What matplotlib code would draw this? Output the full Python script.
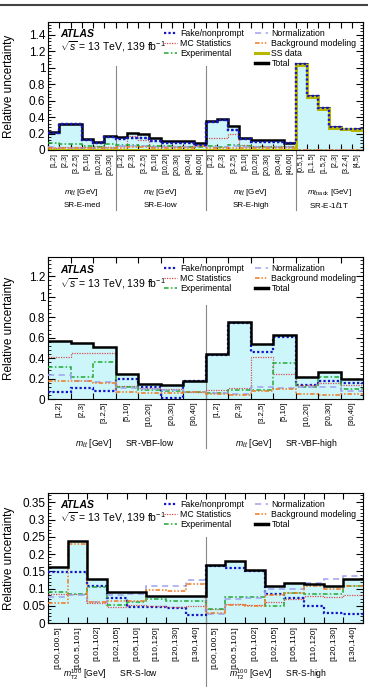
import matplotlib
matplotlib.use("Agg")
import matplotlib.pyplot as plt
import numpy as np
from matplotlib.lines import Line2D
from matplotlib.ticker import AutoMinorLocator, FormatStrFormatter

plt.rcParams['font.family'] = ['Liberation Sans', 'DejaVu Sans']
plt.rcParams['mathtext.fontset'] = 'custom'
plt.rcParams['mathtext.rm'] = 'Liberation Sans'
plt.rcParams['mathtext.it'] = 'Liberation Sans:italic'

# ---- panel 1: SR-E regions ----
mll_bins = ['[1,2]', '[2,3]', '[3.2,5]', '[5,10]', '[10,20]', '[20,30]', '[30,40]', '[40,60]']
mtrack_bins = ['[0.5,1]', '[1,1.5]', '[1.5,2]', '[2,3]', '[3.2,4]', '[4,5]']
labels1 = mll_bins[:6] + mll_bins + mll_bins + mtrack_bins
groups1 = [('SR-E-med', 6), ('SR-E-low', 8), ('SR-E-high', 8), ('SR-E-1$\\ell$1T', 6)]
var1 = ['$m_{\\ell\\ell}$ [GeV]'] * 3 + ['$m_{\\ell\\mathrm{track}}$ [GeV]']

total1 = [0.215, 0.31, 0.31, 0.13, 0.10, 0.17, 0.16, 0.21, 0.19, 0.14, 0.115, 0.11, 0.11, 0.08,
          0.35, 0.38, 0.29, 0.15, 0.12, 0.12, 0.12, 0.09, 1.04, 0.65, 0.51, 0.28, 0.26, 0.25]
fake1 = [0.21, 0.31, 0.31, 0.12, 0.09, 0.16, 0.13, 0.14, 0.14, 0.11, 0.09, 0.09, 0.09, 0.06,
         0.34, 0.37, 0.24, 0.13, 0.10, 0.10, 0.10, 0.08, 1.04, 0.65, 0.51, 0.28, 0.26, 0.25]
mc1 = [0.03, 0.04, 0.04, 0.04, 0.05, 0.04, 0.05, 0.17, 0.12, 0.05, 0.05, 0.05, 0.05, 0.05,
       0.14, 0.14, 0.20, 0.06, 0.05, 0.05, 0.05, 0.05, 0, 0, 0, 0, 0, 0]
exp1 = [0.08, 0.07, 0.07, 0.05, 0.04, 0.07, 0.06, 0.06, 0.05, 0.05, 0.05, 0.04, 0.04, 0.04,
        0.05, 0.04, 0.06, 0.05, 0.04, 0.04, 0.04, 0.04, 0, 0, 0, 0, 0, 0]
norm1 = [0.04, 0.03, 0.03, 0.03, 0.03, 0.03, 0.05, 0.05, 0.05, 0.04, 0.04, 0.04, 0.04, 0.05,
         0.04, 0.04, 0.05, 0.04, 0.04, 0.04, 0.04, 0.04, 0, 0, 0, 0, 0, 0]
bkg1 = [0.03, 0.03, 0.02, 0.02, 0.02, 0.02, 0.03, 0.04, 0.04, 0.03, 0.03, 0.03, 0.03, 0.05,
        0.02, 0.02, 0.03, 0.03, 0.03, 0.02, 0.02, 0.03, 0, 0, 0, 0, 0, 0]
ss1 = [0] * 22 + [1.03, 0.64, 0.50, 0.27, 0.25, 0.24]

# ---- panel 2: SR-VBF regions ----
labels2 = mll_bins[:7] * 2
groups2 = [('SR-VBF-low', 7), ('SR-VBF-high', 7)]
total2 = [0.57, 0.546, 0.513, 0.245, 0.147, 0.14, 0.18, 0.438, 0.75, 0.536, 0.627, 0.219, 0.26, 0.193]
fake2 = [0.07, 0.105, 0.075, 0.20, 0.115, 0.01, 0.18, 0.43, 0.74, 0.46, 0.61, 0.137, 0.18, 0.16]
mc2 = [0.415, 0.455, 0.455, 0.127, 0.11, 0.10, 0.07, 0.088, 0.11, 0.41, 0.245, 0.14, 0.16, 0.135]
exp2 = [0.317, 0.22, 0.366, 0.12, 0.09, 0.08, 0.07, 0.06, 0.09, 0.09, 0.35, 0.12, 0.22, 0.10]
norm2 = [0.235, 0.18, 0.17, 0.11, 0.10, 0.09, 0.07, 0.06, 0.05, 0.12, 0.11, 0.12, 0.12, 0.08]
bkg2 = [0.18, 0.18, 0.154, 0.07, 0.06, 0.06, 0.07, 0.045, 0.035, 0.08, 0.10, 0.05, 0.035, 0.05]

# ---- panel 3: SR-S regions ----
mt2_bins = ['[100,100.5]', '[100.5,101]', '[101,102]', '[102,105]', '[105,110]',
            '[110,120]', '[120,130]', '[130,140]']
labels3 = mt2_bins * 2
groups3 = [('SR-S-low', 8), ('SR-S-high', 8)]
total3 = [0.161, 0.238, 0.128, 0.089, 0.089, 0.077, 0.077, 0.078,
          0.169, 0.18, 0.154, 0.106, 0.115, 0.112, 0.106, 0.128]
fake3 = [0.147, 0.147, 0.108, 0.072, 0.047, 0.047, 0.044, 0.023,
         0.165, 0.16, 0.15, 0.083, 0.072, 0.05, 0.028, 0.026]
mc3 = [0.083, 0.083, 0.058, 0.047, 0.052, 0.05, 0.047, 0.05,
       0.04, 0.055, 0.052, 0.06, 0.07, 0.077, 0.074, 0.08]
exp3 = [0.09, 0.085, 0.105, 0.052, 0.062, 0.07, 0.065, 0.065,
        0.04, 0.074, 0.074, 0.05, 0.088, 0.083, 0.085, 0.106]
norm3 = [0.074, 0.08, 0.06, 0.08, 0.085, 0.106, 0.106, 0.125,
         0.025, 0.07, 0.072, 0.10, 0.10, 0.115, 0.128, 0.135]
bkg3 = [0.057, 0.23, 0.06, 0.065, 0.065, 0.096, 0.093, 0.112,
        0.03, 0.052, 0.05, 0.08, 0.088, 0.106, 0.098, 0.106]

FILL = '#cdf6fa'
styles = {
    'fake': dict(color='#1515c8', ls=(0, (1, 1)), lw=1.6),
    'mc': dict(color='#d85050', ls=(0, (1, 1)), lw=0.9),
    'exp': dict(color='#20a830', ls=(0, (3, 1.5, 1, 1.5)), lw=1.1),
    'norm': dict(color='#a0a0f0', ls=(0, (4, 3)), lw=1.1),
    'bkg': dict(color='#f07820', ls=(0, (3, 1.2, 1, 1.2, 1, 1.2)), lw=1.1),
    'ss': dict(color='#b8b800', ls='-', lw=2.2),
}


def draw_panel(ax, total, comps, ss, xlabels, groups, varlabels, ymax, ystep, fs_tick,
               var_y, reg_y, sep_bottom, one_line=None):
    n = len(total)
    edges = np.arange(n + 1)
    ax.stairs(total, edges, fill=True, color=FILL, zorder=1)
    for key, vals in comps:
        ax.stairs(vals, edges, zorder=3, baseline=None, **styles[key])
    ax.stairs(total, edges, color='black', lw=1.8, baseline=None, zorder=4)
    if ss is not None:
        ax.stairs(ss, edges, baseline=None, zorder=5, **styles['ss'])
        ax.stairs(comps[0][1], edges, baseline=None, zorder=6, **styles['fake'])

    ax.set_xlim(0, n)
    ax.set_ylim(0, ymax)
    ax.set_xticks(edges)
    ax.set_xticklabels([])
    ax.set_xticks(edges[:-1] + 0.5, minor=True)
    ax.set_xticklabels(xlabels, minor=True, rotation=90, fontsize=fs_tick)
    ax.tick_params(axis='x', which='minor', length=0, pad=2)
    ax.tick_params(axis='x', which='major', length=4, direction='in', top=True)
    ax.yaxis.set_major_locator(plt.MultipleLocator(ystep))
    ax.yaxis.set_minor_locator(AutoMinorLocator(5))
    ax.yaxis.set_major_formatter(FormatStrFormatter('%g'))
    ax.tick_params(axis='y', which='major', length=5, direction='in', right=True, labelsize=8.5, pad=2)
    ax.tick_params(axis='y', which='minor', length=2.5, direction='in', right=True)
    ax.set_ylabel('Relative uncertainty', fontsize=8.5)
    ax.yaxis.set_label_coords(-0.105, 0.5)

    # region separators and labels
    start = 0
    for i, (name, nb) in enumerate(groups):
        if start > 0:
            ax.axvline(start, ymin=sep_bottom, ymax=0.66, color='#888888', lw=0.8,
                       clip_on=False, zorder=2)
        centre = start + nb / 2
        if one_line is None:
            ax.text(centre, var_y, varlabels[i], transform=ax.get_xaxis_transform(),
                    ha='center', va='center', fontsize=5.8)
            ax.text(centre, reg_y, name, transform=ax.get_xaxis_transform(),
                    ha='center', va='center', fontsize=5.8)
        else:
            ax.text(start + one_line[i], var_y,
                    varlabels[i] + '      ' + name, transform=ax.get_xaxis_transform(),
                    ha='center', va='center', fontsize=6.2)
        start += nb

    ax.text(0.038, 0.905, 'ATLAS', transform=ax.transAxes, fontsize=7.5,
            fontweight='bold', fontstyle='italic', va='center')
    ax.text(0.038, 0.81, '$\\sqrt{s}$ = 13 TeV, 139 fb$^{-1}$', transform=ax.transAxes,
            fontsize=7.5, va='center')

    handles = [Line2D([], [], **styles['fake']), Line2D([], [], **styles['mc']),
               Line2D([], [], **styles['exp'])]
    names = ['Fake/nonprompt', 'MC Statistics', 'Experimental']
    right_h = [Line2D([], [], **styles['norm']), Line2D([], [], **styles['bkg'])]
    right_n = ['Normalization', 'Background modeling']
    if ss is not None:
        handles.append(Line2D([], [], alpha=0))
        names.append('')
        right_h.append(Line2D([], [], **styles['ss']))
        right_n.append('SS data')
    right_h.append(Line2D([], [], color='black', lw=2.5))
    right_n.append('Total')
    ax.legend(handles + right_h, names + right_n, ncol=2, loc='upper right',
              bbox_to_anchor=(1.0, 1.0), frameon=False, fontsize=6.3,
              handlelength=1.5, handleheight=0.5, handletextpad=0.4,
              columnspacing=1.2, labelspacing=0.12, borderaxespad=0.35)


fig = plt.figure(figsize=(3.68, 6.87), dpi=100)
left, width = 48 / 368, 315 / 368
ax1 = fig.add_axes([left, 1 - 150 / 687, width, 128 / 687])
ax2 = fig.add_axes([left, 1 - 399 / 687, width, 142 / 687])
ax3 = fig.add_axes([left, 1 - 623 / 687, width, 130 / 687])

draw_panel(ax1, total1,
           [('fake', fake1), ('mc', mc1), ('exp', exp1), ('norm', norm1), ('bkg', bkg1)],
           ss1, labels1, groups1, var1, 1.555, 0.2, 5.0, -0.33, -0.43, -0.47)
draw_panel(ax2, total2,
           [('fake', fake2), ('mc', mc2), ('exp', exp2), ('norm', norm2), ('bkg', bkg2)],
           None, labels2, groups2, ['$m_{\\ell\\ell}$ [GeV]'] * 2, 1.39, 0.2, 5.6,
           -0.31, -0.31, -0.345, one_line=[3.4, 3.6])
draw_panel(ax3, total3,
           [('fake', fake3), ('mc', mc3), ('exp', exp3), ('norm', norm3), ('bkg', bkg3)],
           None, labels3, groups3, ['$m_{\\mathrm{T2}}^{100}$ [GeV]'] * 2, 0.377, 0.05, 6.0,
           -0.40, -0.40, -0.49, one_line=[3.2, 3.7])

fig.add_artist(Line2D([0, 1], [1 - 5 / 687] * 2, color='#444444', lw=1.5,
                      transform=fig.transFigure))

fig.savefig('out.png', dpi=100)
